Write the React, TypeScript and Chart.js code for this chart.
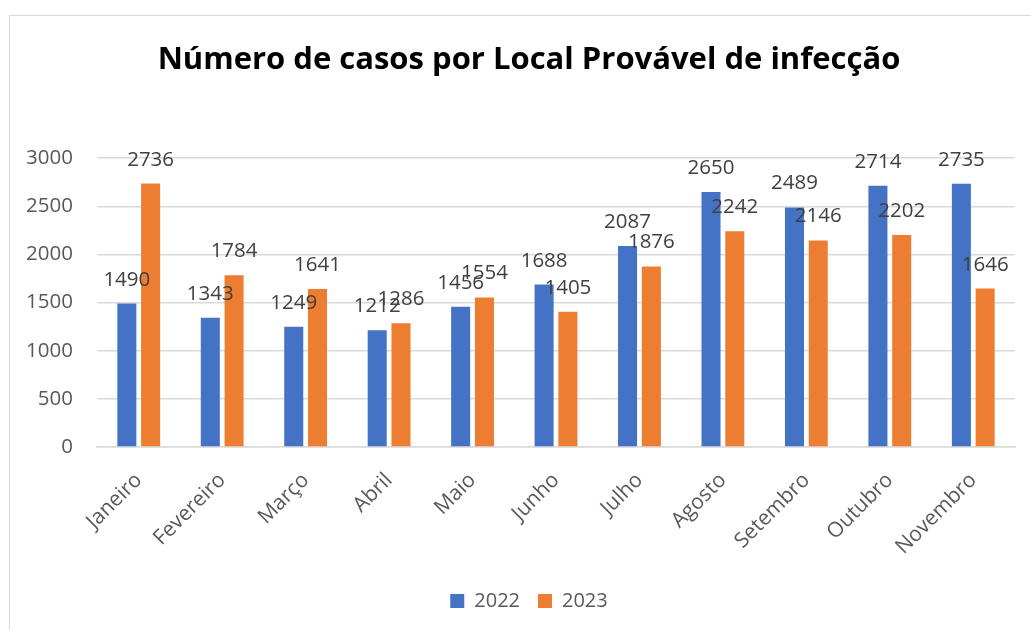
import React, { useEffect, useRef } from "react";
import { Chart, registerables } from "chart.js";

Chart.register(...registerables);

const months = ["Janeiro", "Fevereiro", "Março", "Abril", "Maio", "Junho", "Julho", "Agosto", "Setembro", "Outubro", "Novembro"];
const values2022 = [1490, 1343, 1249, 1212, 1456, 1688, 2087, 2650, 2489, 2714, 2735];
const values2023 = [2736, 1784, 1641, 1286, 1554, 1405, 1876, 2242, 2146, 2202, 1646];
const seriesNames = ["2022", "2023"];
const yTicks = { min: 0, max: 3000, step: 500 };
const titleText = "Número de casos por Local Provável de infecção";

const FONT = "'Open Sans', 'Liberation Sans', sans-serif";

const dataLabelPlugin = {
  id: "dataLabels",
  afterDatasetsDraw(chart: any) {
    const ctx = chart.ctx;
    ctx.save();
    ctx.font = `20.5px ${FONT}`;
    ctx.fillStyle = "#404040";
    ctx.textAlign = "center";
    ctx.textBaseline = "alphabetic";
    chart.data.datasets.forEach((ds: any, di: number) => {
      const meta = chart.getDatasetMeta(di);
      meta.data.forEach((bar: any, i: number) => {
        ctx.fillText(String(ds.data[i]), bar.x, bar.y - 18);
      });
    });
    ctx.restore();
  },
};

export default function App() {
  const ref = useRef<HTMLCanvasElement>(null);
  useEffect(() => {
    if (!ref.current) return;
    const chart = new Chart(ref.current, {
      type: "bar",
      data: {
        labels: months,
        datasets: [
          { label: seriesNames[0], data: values2022, backgroundColor: "#4472C4", barPercentage: 0.8, categoryPercentage: 0.57 },
          { label: seriesNames[1], data: values2023, backgroundColor: "#ED7D31", barPercentage: 0.8, categoryPercentage: 0.57 },
        ],
      },
      options: {
        responsive: false,
        animation: false,
        devicePixelRatio: 1,
        layout: { padding: { left: 0, right: 0, top: 0, bottom: 15 } },
        plugins: {
          title: {
            display: true,
            text: titleText,
            color: "#000000",
            font: { family: FONT, size: 31, weight: "bold", lineHeight: 1.2 },
            padding: { top: 26, bottom: 79 },
          },
          legend: {
            position: "bottom",
            labels: {
              boxWidth: 14,
              boxHeight: 14,
              padding: 18,
              color: "#595959",
              font: { family: FONT, size: 20 },
            },
          },
          tooltip: { enabled: false },
        },
        scales: {
          x: {
            grid: { display: false },
            border: { display: true, color: "#d9d9d9", width: 1.5 },
            ticks: {
              color: "#595959",
              font: { family: FONT, size: 21 },
              minRotation: 45,
              maxRotation: 45,
              padding: 13,
            },
            afterFit(scale: any) {
              scale.height = 126;
            },
          },
          y: {
            min: yTicks.min,
            max: yTicks.max,
            ticks: {
              stepSize: yTicks.step,
              color: "#595959",
              font: { family: FONT, size: 20.5 },
              padding: 24,
              callback: (v: any) => String(v),
            },
            grid: { color: "#d9d9d9", lineWidth: 1.5, drawTicks: false },
            border: { display: false },
            afterFit(scale: any) {
              scale.width = 87;
            },
          },
          yRight: {
            position: "right",
            display: true,
            grid: { display: false, drawTicks: false },
            border: { display: false },
            ticks: { display: false },
            afterFit(scale: any) {
              scale.width = 33;
            },
          },
        },
      },
      plugins: [dataLabelPlugin],
    });
    return () => chart.destroy();
  }, []);
  return (
    <div
      style={{
        position: "fixed",
        left: 9,
        top: 15,
        width: 1038,
        height: 620,
        border: "1px solid #d9d9d9",
        background: "#ffffff",
      }}
    >
      <canvas ref={ref} width={1038} height={620} style={{ display: "block" }} />
    </div>
  );
}
